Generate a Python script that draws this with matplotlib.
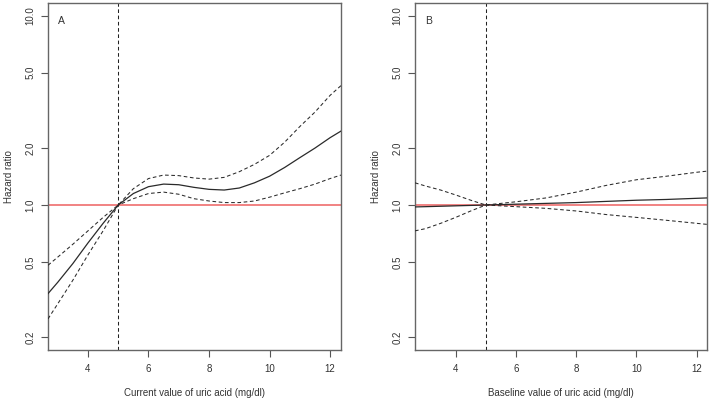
import matplotlib
matplotlib.use('agg')
import matplotlib.pyplot as plt
import numpy as np

plt.rcParams['font.family'] = ['Liberation Sans', 'DejaVu Sans']

# panel A: current value of uric acid
xa = [2.68, 3.0, 3.5, 4.0, 4.5, 5.0, 5.5, 6.0, 6.5, 7.0, 7.5, 8.0, 8.5, 9.0, 9.5, 10.0, 10.5, 11.0, 11.5, 12.0, 12.36]
hr_a = [0.34, 0.39, 0.49, 0.63, 0.80, 1.0, 1.15, 1.25, 1.29, 1.28, 1.24, 1.21, 1.20, 1.23, 1.31, 1.42, 1.58, 1.78, 2.0, 2.27, 2.46]
up_a = [0.48, 0.53, 0.62, 0.73, 0.86, 1.0, 1.22, 1.38, 1.44, 1.43, 1.39, 1.37, 1.40, 1.50, 1.64, 1.83, 2.15, 2.6, 3.1, 3.8, 4.28]
lo_a = [0.25, 0.30, 0.40, 0.545, 0.73, 1.0, 1.08, 1.15, 1.17, 1.14, 1.08, 1.05, 1.03, 1.03, 1.05, 1.10, 1.16, 1.22, 1.29, 1.38, 1.44]

# panel B: baseline value of uric acid
xb = [2.65, 3.0, 3.5, 4.0, 4.5, 5.0, 6.0, 7.0, 8.0, 9.0, 10.0, 11.0, 12.0, 12.34]
hr_b = [0.977, 0.98, 0.985, 0.99, 0.995, 1.0, 1.01, 1.02, 1.03, 1.045, 1.06, 1.07, 1.085, 1.09]
up_b = [1.31, 1.26, 1.20, 1.13, 1.06, 1.0, 1.04, 1.09, 1.17, 1.27, 1.36, 1.42, 1.49, 1.51]
lo_b = [0.73, 0.75, 0.80, 0.86, 0.93, 1.0, 0.98, 0.96, 0.93, 0.89, 0.86, 0.83, 0.80, 0.79]

ref_x = 5
yticks = [0.2, 0.5, 1.0, 2.0, 5.0, 10.0]
xticks = [4, 6, 8, 10, 12]

fig = plt.figure(figsize=(7.1, 4.01), dpi=100)
ax_a = fig.add_axes([0.0676, 0.127, 0.4127, 0.8655])
ax_b = fig.add_axes([0.5845, 0.127, 0.4113, 0.8655])

panels = [
    (ax_a, xa, hr_a, up_a, lo_a, (2.68, 12.36), 'A', 'Current value of uric acid (mg/dl)'),
    (ax_b, xb, hr_b, up_b, lo_b, (2.65, 12.34), 'B', 'Baseline value of uric acid (mg/dl)'),
]

dash = (0, (3.5, 2.5))
for ax, x, hr, up, lo, xlim, tag, xlabel in panels:
    ax.set_yscale('log')
    ax.axhline(1.0, color='#f07878', lw=1.3, zorder=1)
    ax.plot(x, hr, color='#2a2a2a', lw=0.9, zorder=3)
    ax.plot(x, up, color='#2a2a2a', lw=0.75, ls=dash, zorder=3)
    ax.plot(x, lo, color='#2a2a2a', lw=0.75, ls=dash, zorder=3)
    ax.axvline(ref_x, color='#222222', lw=0.75, ls=dash, zorder=2)
    ax.set_xlim(*xlim)
    lo_lim = 10 ** (np.log10(0.2) - 0.068)
    hi_lim = 10 ** (np.log10(10) + 0.068)
    ax.set_ylim(lo_lim, hi_lim)
    ax.set_yticks(yticks)
    ax.set_yticklabels(['%.1f' % v for v in yticks], rotation=90, va='center')
    ax.yaxis.set_minor_locator(matplotlib.ticker.NullLocator())
    ax.set_xticks(xticks)
    ax.tick_params(labelsize=7, colors='#555555', labelcolor='#333333', length=5, width=0.8, pad=5)
    ax.tick_params(axis='y', pad=4)
    for s in ax.spines.values():
        s.set_color('#666666')
        s.set_linewidth(1.0)
    ax.set_xlabel(xlabel, fontsize=7, color='#333333', labelpad=10)
    ax.set_ylabel('Hazard ratio', fontsize=7, color='#333333', labelpad=8)
    ax.text(0.035, 0.94, tag, transform=ax.transAxes, fontsize=7.5, color='#333333')

fig.savefig('out.png', dpi=100)
